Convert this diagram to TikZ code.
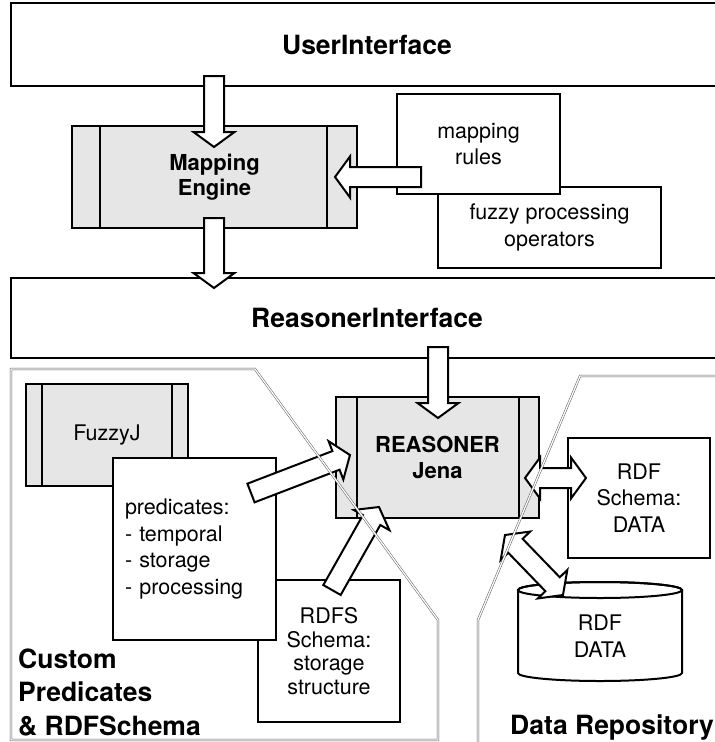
\documentclass[tikz,border=0pt]{standalone}
\usepackage{fontspec}
\setmainfont{TeX Gyre Heros}
\usetikzlibrary{calc}

\definecolor{procgray}{HTML}{E6E6E6}
\definecolor{regiongray}{HTML}{5A5A5A}

\tikzset{
  plainbox/.style={draw, line width=2pt, fill=white, align=center, inner sep=0pt, outer sep=0pt,
    font=\fontsize{21.5}{26.5}\selectfont},
  titlebox/.style={plainbox, font=\fontsize{26.5}{30}\selectfont\bfseries},
  boldtext/.style={font=\fontsize{22}{25.5}\selectfont\bfseries},
  procbox/.style={plainbox, fill=procgray},
  procline/.style={line width=2pt},
  labeltext/.style={inner sep=0pt, align=left, font=\fontsize{26.5}{33.5}\selectfont\bfseries},
  hollowarrow/.style={draw, line width=2pt, fill=white, line join=miter},
  region/.style={draw=regiongray, line width=0.5pt, double=white, double distance=1.3pt}
}

% hollow block arrow from #1 to #2
\newcommand{\singlearr}[2]{%
  \path let \p1=($(#2)-(#1)$) in \pgfextra{%
    \pgfmathsetmacro{\arrang}{atan2(\y1,\x1)}\pgfmathsetmacro{\arrlen}{veclen(\x1,\y1)}%
    \xdef\arrang{\arrang}\xdef\arrlen{\arrlen}};
  \begin{scope}[shift={(#1)}, rotate=\arrang]
    \draw[hollowarrow] (0,-10) -- (\arrlen-15,-10) -- (\arrlen-15,-20.5) -- (\arrlen,0)
      -- (\arrlen-15,20.5) -- (\arrlen-15,10) -- (0,10) -- cycle;
  \end{scope}}

% hollow block arrow with a head at both ends
\newcommand{\doublearr}[2]{%
  \path let \p1=($(#2)-(#1)$) in \pgfextra{%
    \pgfmathsetmacro{\arrang}{atan2(\y1,\x1)}\pgfmathsetmacro{\arrlen}{veclen(\x1,\y1)}%
    \xdef\arrang{\arrang}\xdef\arrlen{\arrlen}};
  \begin{scope}[shift={(#1)}, rotate=\arrang]
    \draw[hollowarrow] (15,-10) -- (\arrlen-15,-10) -- (\arrlen-15,-20.5) -- (\arrlen,0)
      -- (\arrlen-15,20.5) -- (\arrlen-15,10) -- (15,10) -- (15,20.5) -- (0,0) -- (15,-20.5) -- cycle;
  \end{scope}}

\begin{document}
\begin{tikzpicture}[x=1pt, y=-1pt]
  \useasboundingbox (0,0) rectangle (715,742);
  \clip (0,0) rectangle (715,742);

  % Define points
  \coordinate (uiOut) at (214,76);
  \coordinate (mapIn) at (214,147);
  \coordinate (mapOut) at (214,218);
  \coordinate (riIn) at (214,288);
  \coordinate (riOut) at (438,347);
  \coordinate (reasTop) at (438,418);
  \coordinate (rulesOut) at (421,177);
  \coordinate (mapSide) at (335,177);
  \coordinate (predOut) at (251,493);
  \coordinate (reasLeft) at (350,455);
  \coordinate (rdfsOut) at (332,590);
  \coordinate (reasBottom) at (379,507);
  \coordinate (reasRight) at (525,478);
  \coordinate (schemaIn) at (586,478);
  \coordinate (reasCorner) at (505,535);
  \coordinate (dbIn) at (563,595);

  % Draw interface layers
  \node[titlebox, minimum width=712pt, minimum height=83pt] (ui) at (367,44.5) {UserInterface};
  \node[titlebox, minimum width=712pt, minimum height=80pt] (ri) at (367,318) {ReasonerInterface};

  % Draw mapping layer
  \node[procbox, boldtext, minimum width=285pt, minimum height=102pt] (mapping) at (214.5,177) {Mapping\\Engine};
  \draw[procline] ([xshift=28pt]mapping.north west) -- ([xshift=28pt]mapping.south west);
  \draw[procline] ([xshift=-30pt]mapping.north east) -- ([xshift=-30pt]mapping.south east);
  \node[plainbox, minimum width=223pt, minimum height=81pt] (fuzzyops) at (549.5,227.5) {fuzzy processing\\operators};
  \node[plainbox, minimum width=163pt, minimum height=100pt] (rules) at (478.5,144) {mapping\\rules};

  % Draw custom predicates
  \node[procbox, minimum width=162pt, minimum height=102pt] (fuzzyj) at (107,435) {FuzzyJ};
  \draw[procline] ([xshift=16pt]fuzzyj.north west) -- ([xshift=16pt]fuzzyj.south west);
  \draw[procline] ([xshift=-16pt]fuzzyj.north east) -- ([xshift=-16pt]fuzzyj.south east);
  \node[plainbox, minimum width=142pt, minimum height=142pt, font=\fontsize{21.5}{23.5}\selectfont] (rdfs) at (329,651) {RDFS\\Schema:\\storage\\structure};
  \node[plainbox, minimum width=163pt, minimum height=182pt, text width=139pt, align=left] (preds) at (194.5,549) {predicates:\\- temporal\\- storage\\- processing};

  % Draw reasoner and data
  \node[procbox, boldtext, minimum width=203pt, minimum height=121pt] (reasoner) at (437.5,457.5) {REASONER\\Jena};
  \draw[procline] ([xshift=21pt]reasoner.north west) -- ([xshift=21pt]reasoner.south west);
  \draw[procline] ([xshift=-20pt]reasoner.north east) -- ([xshift=-20pt]reasoner.south east);
  \node[plainbox, minimum width=142pt, minimum height=120pt] (schema) at (639,498) {RDF\\Schema:\\DATA};
  \draw[line width=2pt, fill=white] (518,590) -- (518,673) arc[start angle=180, end angle=360, x radius=82pt, y radius=8pt]
    -- (682,590) arc[start angle=0, end angle=180, x radius=82pt, y radius=8pt] -- cycle;
  \draw[line width=2pt] (600,590) ellipse[x radius=82pt, y radius=8pt];
  \node[inner sep=0pt, align=center, font=\fontsize{21.5}{26.5}\selectfont] (rdfdata) at (600,636) {RDF\\DATA};

  % Draw arrows
  \singlearr{uiOut}{mapIn}
  \singlearr{mapOut}{riIn}
  \singlearr{riOut}{reasTop}
  \singlearr{rulesOut}{mapSide}
  \singlearr{predOut}{reasLeft}
  \singlearr{rdfsOut}{reasBottom}
  \doublearr{reasRight}{schemaIn}
  \doublearr{reasCorner}{dbIn}

  % Draw region borders
  \draw[region] (11,369) -- (255,369) -- (438,620) -- (438,740) -- (11,740) -- cycle;
  \draw[region] (478,750) -- (478,620) -- (580,376) -- (725,376);

  % Label regions
  \node[labeltext, anchor=north west] (customlbl) at (18,648.5) {Custom\\Predicates\\\& RDFSchema};
  \node[labeltext, anchor=base west] (repolbl) at (510,734.5) {Data Repository};
\end{tikzpicture}
\end{document}
